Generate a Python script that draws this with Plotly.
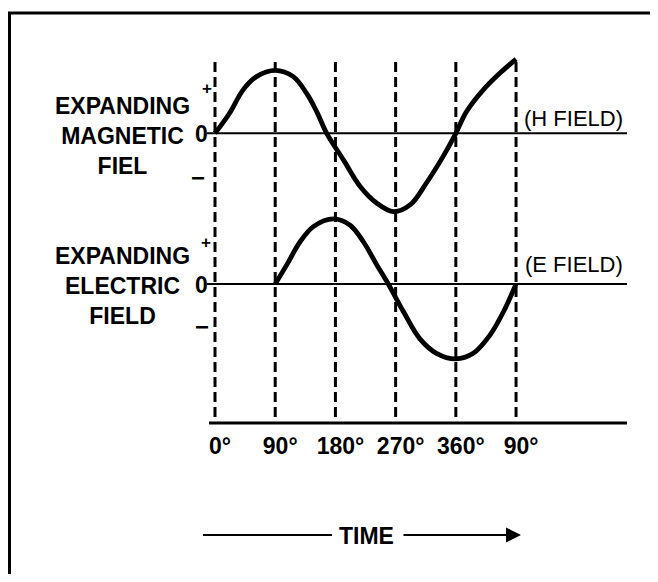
import plotly.graph_objects as go

# page is shown with the browser's default 8px body margin; keep the figure inside
# the window so that no scrollbar appears
PAGE_W, PAGE_H, BODY_MARGIN = 658, 582, 8
W, H = PAGE_W - 2 * BODY_MARGIN, PAGE_H - 2 * BODY_MARGIN

# ---------------- data ----------------
TICK_DEG = [0, 90, 180, 270, 360, 450]
TICK_LABELS = ["0°", "90°", "180°", "270°", "360°", "90°"]

# expanding magnetic field (H field), relative amplitude
H_DEG = [0, 22, 42, 62, 90, 117, 137, 152, 167, 192, 217, 242, 267, 292, 316, 341, 360, 376, 401, 426, 450]
H_VAL = [0, 0.29, 0.62, 0.81, 0.90, 0.81, 0.57, 0.31, 0.0, -0.38, -0.76, -1.0, -1.12, -1.02, -0.71, -0.33, 0.0, 0.31, 0.62, 0.86, 1.06]

# expanding electric field (E field), relative amplitude
E_DEG = [90, 107, 127, 147, 177, 202, 222, 242, 259, 282, 306, 331, 360, 386, 411, 431, 450]
E_VAL = [0, 0.27, 0.60, 0.82, 0.93, 0.84, 0.60, 0.27, 0.0, -0.40, -0.78, -0.99, -1.07, -0.99, -0.73, -0.40, 0.0]

H_LABEL = "EXPANDING<br>MAGNETIC<br>FIEL"
E_LABEL = "EXPANDING<br>ELECTRIC<br>FIELD"
H_TAG = "(H FIELD)"
E_TAG = "(E FIELD)"
TIME_LABEL = "TIME"

# ---------------- geometry helpers (page pixel -> figure coords) ----------------
X0_PX, PX_PER_DEG = 215, 0.669
H_ZERO_PX, E_ZERO_PX, PX_PER_UNIT = 133.3, 284.0, 70.0
LEFT_PX, TOP_PX = BODY_MARGIN, BODY_MARGIN
RIGHT_PX, BOTTOM_PX = BODY_MARGIN + W, BODY_MARGIN + H


def px_x(px):
    return (px - LEFT_PX) / W


def px_y(py):
    return 1 - (py - TOP_PX) / H


def deg_at(px):
    return (px - X0_PX) / PX_PER_DEG


def h_at(py):
    return (H_ZERO_PX - py) / PX_PER_UNIT


def e_at(py):
    return (E_ZERO_PX - py) / PX_PER_UNIT


FONT = "Liberation Sans, Arial, Helvetica, sans-serif"
BLACK = "#000000"

fig = go.Figure()

# dashed phase lines
vx, vy = [], []
for d in TICK_DEG:
    vx += [d, d, None]
    vy += [h_at(62), h_at(419), None]
fig.add_trace(go.Scatter(x=vx, y=vy, mode="lines", yaxis="y",
                         line=dict(color=BLACK, width=3, dash="10px,5px"),
                         hoverinfo="skip", showlegend=False))

# curves
fig.add_trace(go.Scatter(x=H_DEG, y=H_VAL, mode="lines", yaxis="y",
                         line=dict(color=BLACK, width=4.8, shape="spline", smoothing=1.0),
                         showlegend=False, name="H field"))
fig.add_trace(go.Scatter(x=E_DEG, y=E_VAL, mode="lines", yaxis="y2",
                         line=dict(color=BLACK, width=4.8, shape="spline", smoothing=1.0),
                         showlegend=False, name="E field"))

# frame: one open path, top edge and left edge only
fx0, fy_top, fx_right = px_x(9.5), px_y(13), 1.0
frame_path = f"M {fx_right},{fy_top} L {fx0},{fy_top} L {fx0},0"

shapes = [
    # zero lines (with small tick at left)
    dict(type="line", xref="x", yref="y", x0=deg_at(207), x1=deg_at(627), y0=0, y1=0,
         line=dict(color=BLACK, width=2)),
    dict(type="line", xref="x", yref="y2", x0=deg_at(207), x1=deg_at(627), y0=0, y1=0,
         line=dict(color=BLACK, width=2)),
    # time axis line
    dict(type="line", xref="x", yref="paper", x0=deg_at(209), x1=deg_at(627),
         y0=px_y(423), y1=px_y(423), line=dict(color=BLACK, width=3)),
    # time arrow left part
    dict(type="line", xref="x", yref="paper", x0=deg_at(203), x1=deg_at(332),
         y0=px_y(535), y1=px_y(535), line=dict(color=BLACK, width=2)),
    # frame (top and left)
    dict(type="path", xref="paper", yref="paper", path=frame_path,
         line=dict(color=BLACK, width=3)),
]


def txt(text, xp, yp, size, bold=True, xanchor="center"):
    return dict(text=text, x=px_x(xp), y=px_y(yp), xref="paper", yref="paper",
                xanchor=xanchor, yanchor="middle", showarrow=False,
                font=dict(family=FONT, size=size, color=BLACK,
                          weight="bold" if bold else "normal"))


annotations = [
    txt(H_LABEL, 122, 136, 23),
    txt(E_LABEL, 122, 286, 23),
    txt("0", 201, 134, 23),
    txt("0", 201, 285, 23),
    txt("+", 207, 88, 17),
    txt("+", 206, 242, 17),
    txt("\u2212", 197.5, 177, 24),
    txt("\u2212", 201.5, 326, 24),
    txt(H_TAG, 573.5, 118, 22, bold=False),
    txt(E_TAG, 574, 264, 22, bold=False),
    txt(TIME_LABEL, 366.5, 536, 23),
    dict(text="", x=deg_at(521), y=h_at(535), xref="x", yref="y",
         ax=deg_at(402), ay=h_at(535), axref="x", ayref="y",
         showarrow=True, arrowhead=2, arrowsize=1.5, arrowwidth=2, arrowcolor=BLACK),
]

fig.update_layout(
    width=W, height=H,
    margin=dict(l=0, r=0, t=0, b=0),
    paper_bgcolor="white", plot_bgcolor="white",
    showlegend=False,
    xaxis=dict(range=[deg_at(LEFT_PX), deg_at(RIGHT_PX)], domain=[0, 1], anchor="free",
               position=px_y(423),
               tickvals=TICK_DEG, ticktext=TICK_LABELS, ticks="", showline=False,
               showgrid=False, zeroline=False, ticklabelshift=5, ticklabelstandoff=7,
               tickfont=dict(family=FONT, size=23, color=BLACK, weight="bold"),
               fixedrange=True),
    yaxis=dict(range=[h_at(BOTTOM_PX), h_at(TOP_PX)], domain=[0, 1], visible=False,
               showline=False, zeroline=False, fixedrange=True),
    yaxis2=dict(range=[e_at(BOTTOM_PX), e_at(TOP_PX)], domain=[0, 1], overlaying="y",
                visible=False, showline=False, zeroline=False, fixedrange=True),
    shapes=shapes,
    annotations=annotations,
)

fig.write_html("out.html", config={"displayModeBar": False})
